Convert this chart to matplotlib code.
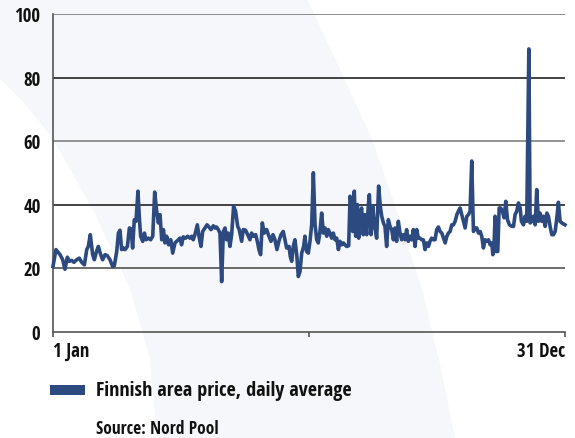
import matplotlib
matplotlib.use('Agg')
import matplotlib.pyplot as plt
from matplotlib.patches import Polygon, Rectangle
from matplotlib import font_manager

# ---------------- data ----------------
days = [0, 2.1, 5.0, 6.9, 8.5, 10.2, 11.6, 13.3, 14.9, 16.8, 18.7, 20.4, 22.3, 24.0, 25.1, 26.5, 28.2, 29.4,
        30.6, 32.2, 33.9, 35.3, 37.0, 38.6, 40.5, 42.4, 43.6, 45.3, 46.5, 47.6, 48.8, 50.0, 51.2, 52.9, 54.3,
        55.5, 56.6, 57.8, 59.0, 60.4, 61.4, 62.3, 63.8, 65.0, 66.1, 67.8, 69.4, 70.9, 72.3, 73.7, 74.9, 76.1,
        77.3, 78.5, 79.6, 80.8, 82.2, 83.7, 85.1, 86.7,
        89.1, 90.3, 91.4, 92.6, 94.3, 95.7, 97.4, 98.6, 99.7, 100.9, 102.6, 103.8, 105.2, 106.4, 108.0, 109.5,
        110.9, 112.3, 114.0, 115.1, 116.3, 117.5, 118.7, 119.9, 121.1, 122.3, 123.4, 124.6, 125.8, 127.0, 128.4,
        129.8, 131.3, 132.4, 134.1, 135.3, 136.9, 138.4, 140.0, 141.2, 142.6, 144.1, 145.5, 146.4, 147.6, 148.8,
        150.2, 151.9, 153.5, 155.0, 156.4, 157.8, 159.2, 160.6, 162.1, 163.7, 164.9, 166.1, 167.8, 168.7, 169.7,
        170.8, 172.0, 173.4, 174.4, 175.6, 176.8, 178.2, 179.1,
        180.3, 181.5, 182.7, 183.9, 185.1, 186.3, 187.5, 188.6, 189.8, 191.0, 192.2, 193.4, 194.6, 195.7, 196.9,
        198.1, 199.3, 200.5, 201.7, 202.9, 204.0, 205.2, 206.4, 207.6, 208.8, 210.2, 211.2, 212.3, 213.1, 214.2,
        215.2, 216.4, 217.3, 218.3, 219.4, 220.6, 221.8, 223.0, 224.2, 224.9, 226.1, 227.3, 228.7, 230.1, 231.5,
        232.7, 233.7, 234.9, 236.0, 237.2, 238.4, 239.6, 240.8, 242.0, 243.1, 244.3, 245.5, 246.7, 247.9, 249.1,
        250.3, 251.4, 252.6, 253.8, 255.0, 256.2, 257.4, 258.6, 259.7, 260.9, 262.1, 263.3, 264.5, 265.7, 266.9,
        268.0, 269.2, 270.4, 271.6,
        272.8, 274.0, 275.2, 276.4, 277.6, 278.8, 280.0, 281.1, 282.3, 283.5, 284.7, 285.9, 287.1, 288.2, 289.4,
        290.6, 291.8, 293.0, 294.2, 295.4, 296.5, 297.7, 298.9, 300.1, 301.3, 302.5, 303.7, 304.8, 306.0, 307.2,
        308.4, 309.6, 310.8, 312.0, 312.7, 313.6, 314.3, 315.0, 316.2, 317.2, 318.3, 319.5, 320.7, 321.9, 323.1,
        324.5, 326.2, 327.4, 328.5, 329.7, 330.9, 332.1, 333.0, 334.5, 335.6, 336.8, 338.3, 339.2, 340.4, 341.6,
        342.8, 343.9, 345.1, 346.3, 347.5, 348.7, 349.9, 351.1, 352.2, 353.4, 354.6, 355.8, 357.0, 358.2, 359.3,
        360.5, 361.7, 364.0]

prices = [20.5, 25.8, 24.2, 22.6, 19.6, 23.4, 22.1, 22.4, 21.8, 22.6, 23.1, 21.8, 21.0, 25.8, 26.8, 30.5, 24.2, 22.6,
          24.7, 26.8, 24.2, 22.6, 24.2, 23.9, 22.6, 20.5, 20.7, 25.2, 31.0, 31.9, 25.8, 26.3, 25.8, 26.8, 32.6,
          32.3, 26.3, 35.2, 34.7, 44.2, 35.8, 30.0, 28.4, 31.0, 28.9, 29.4, 28.9, 30.0, 43.9, 37.9, 34.2, 36.8,
          28.9, 32.1, 27.9, 30.0, 27.3, 28.9, 24.7, 27.9,
          28.9, 29.4, 27.3, 29.8, 29.4, 30.0, 29.4, 30.0, 28.9, 30.5, 33.6, 30.0, 26.8, 31.5, 32.6, 33.6,
          32.9, 32.1, 33.3, 32.6, 32.9, 32.1, 31.0, 15.7, 31.5, 32.6, 28.9, 31.0, 26.8, 30.5, 39.4,
          37.9, 33.1, 32.1, 28.4, 32.1, 31.9, 30.5, 28.9, 31.0, 30.0, 30.5, 27.9, 25.8, 24.2, 34.2,
          31.0, 32.1, 30.0, 28.4, 30.5, 28.9, 25.8, 28.4, 30.5, 31.5, 28.9, 26.3, 26.8, 23.6, 22.1,
          26.8, 28.9, 23.6, 17.3, 18.9, 24.7, 26.8, 30.0,
          25.2, 24.7, 28.4, 33.6, 50.0, 33.6, 28.9, 27.9, 31.5, 37.3, 31.0, 32.6, 30.0, 32.1, 31.0,
          29.4, 31.0, 28.9, 29.4, 25.8, 28.4, 27.3, 27.9, 27.3, 26.8, 27.0, 42.6, 40.0, 31.5, 44.2,
          30.0, 40.0, 29.4, 36.3, 38.9, 30.5, 36.8, 30.5, 40.0, 43.1, 30.5, 39.4, 33.1, 29.4, 45.8,
          39.4, 36.3, 34.2, 33.1, 26.8, 35.2, 33.1, 32.1, 28.9, 32.6, 28.4, 34.7, 31.0, 28.9, 30.5,
          28.9, 32.1, 28.4, 30.0, 28.9, 32.1, 26.8, 32.1, 29.4, 29.4, 28.9, 28.9, 25.8, 27.9, 26.8,
          28.4, 29.4, 28.9, 28.9,
          32.1, 32.9, 31.5, 31.0, 29.4, 27.9, 30.0, 31.0, 31.5, 33.6, 33.6, 34.7, 36.8, 37.9, 38.9,
          36.8, 34.7, 32.6, 36.3, 36.8, 37.9, 53.7, 31.5, 32.6, 32.6, 31.0, 31.5, 30.0, 26.3, 28.9,
          28.4, 28.9, 27.3, 27.9, 24.2, 27.9, 36.3, 25.2, 25.2, 38.9, 38.9, 37.9, 35.8, 41.0, 35.2,
          33.6, 33.1, 33.1, 36.8, 37.9, 40.5, 38.9, 34.7, 33.6, 36.3, 34.7, 89.0, 34.2, 34.7, 36.3,
          33.6, 44.7, 34.7, 37.3, 34.7, 36.3, 33.1, 37.3, 36.3, 33.1, 30.5, 30.5, 31.5, 35.8, 40.7,
          34.7, 34.2, 33.6]

y_ticks = [0, 20, 40, 60, 80, 100]
grid_levels = [20, 40, 60, 80, 100]
grid_colors = ['#444444', '#111111', '#777777', '#111111', '#707070']
x_ticks = [0, 182, 364]
x_labels = ['1 Jan', '', '31 Dec']
legend_label = 'Finnish area price, daily average'
source_text = 'Source: Nord Pool'

# ---------------- style ----------------
avail = {f.name for f in font_manager.fontManager.ttflist}
FONT = 'DejaVu Sans'
for cand in ['Open Sans Condensed', 'Fira Sans Condensed', 'PT Sans Narrow', 'Roboto Condensed',
             'Asap Condensed', 'Barlow Semi Condensed', 'Barlow Condensed']:
    if cand in avail:
        FONT = cand
        break
plt.rcParams['font.family'] = [FONT, 'DejaVu Sans']

LINE = '#2c4a80'
TXT = '#111111'
W, H = 575, 439
fig = plt.figure(figsize=(W / 100, H / 100), dpi=100)
fig.patch.set_facecolor('white')


def fp(x, y):
    return (x / W, 1 - y / H)


band = [(0, 0), (307, 0), (340, 70), (372, 140), (398, 215), (422, 290), (440, 365), (455, 439),
        (157, 439), (150, 360), (130, 290), (95, 215), (53, 140), (25, 105), (0, 80)]
fig.patches.append(Polygon([fp(*p) for p in band], closed=True, transform=fig.transFigure,
                           facecolor='#f5f7fa', edgecolor='none', zorder=-5))

ax = fig.add_axes([53 / W, 1 - 332.5 / H, (565 - 53) / W, (332.5 - 15) / H])
ax.patch.set_alpha(0)
ax.set_xlim(0, 364)
ax.set_ylim(0, 100)

for lvl, c in zip(grid_levels, grid_colors):
    ax.axhline(lvl, color=c, lw=1.1, zorder=1)

ax.plot(days, prices, color=LINE, lw=2.6, solid_joinstyle='round', zorder=3, clip_on=False)

for s in ['top', 'right']:
    ax.spines[s].set_visible(False)
for s in ['left', 'bottom']:
    ax.spines[s].set_color('#555555')
    ax.spines[s].set_linewidth(1.2)

ax.set_yticks(y_ticks)
ax.set_yticklabels([str(v) for v in y_ticks], fontsize=13.5, fontweight='semibold', color=TXT)
ax.tick_params(axis='y', length=0, pad=9)
ax.set_xticks(x_ticks)
ax.set_xticklabels(x_labels, fontsize=13.5, fontweight='semibold', color=TXT)
ax.tick_params(axis='x', direction='out', length=3.5, width=1.2, color='#555555', pad=3)
lbls = ax.get_xticklabels()
lbls[0].set_ha('left')
lbls[-1].set_ha('right')

# legend
fig.patches.append(Rectangle(fp(50, 396), 35 / W, 10 / H, transform=fig.transFigure,
                             facecolor=LINE, edgecolor='none'))
fig.text(*fp(96, 391), legend_label, fontsize=14.5, fontweight='semibold', color=TXT,
         va='center', ha='left')
fig.text(*fp(96, 429), source_text, fontsize=12.5, fontweight='semibold', color=TXT,
         va='center', ha='left')

fig.savefig('out.png', dpi=100, facecolor=fig.get_facecolor())
